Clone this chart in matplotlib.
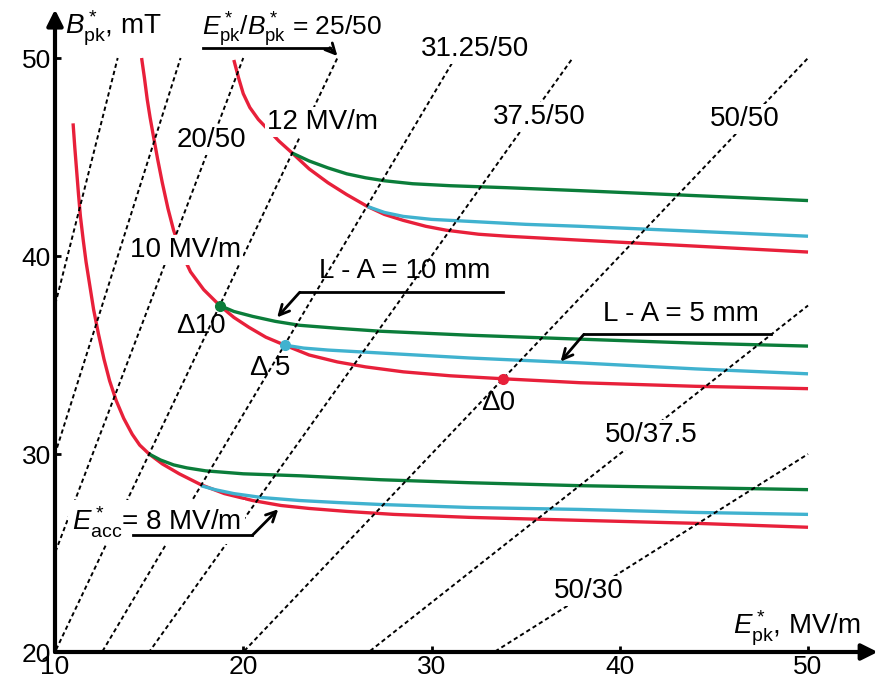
import numpy as np
import matplotlib.pyplot as plt

plt.rcParams['font.family'] = 'Liberation Sans'
plt.rcParams['mathtext.fontset'] = 'custom'
plt.rcParams['mathtext.rm'] = 'Liberation Sans'
plt.rcParams['mathtext.it'] = 'Liberation Sans:italic'

RED = "#e8203a"
GREEN = "#0b7d3a"
CYAN = "#40b2cf"

# E*pk / B*pk ratio lines, given by their end points (MV/m, mT)
ratio_e = [13.33, 16.67, 20, 25, 31.25, 37.5, 50, 50, 50]
ratio_b = [50, 50, 50, 50, 50, 50, 50, 37.5, 30]

# red curves: Eacc* = 8, 10, 12 MV/m, no L-A
red8_x = [10.96, 11.05, 11.15, 11.25, 11.35, 11.5, 11.65, 11.85, 12.05, 12.3, 12.6, 12.9, 13.25, 13.65,
          14.1, 14.5, 15.0, 15.7, 16.6, 17.75, 19.0, 20.5, 22.0, 23.5, 25.5, 28.0, 32.0, 37.9, 44.0, 50.0]
red8_y = [46.7, 45.5, 44.3, 43.1, 42.0, 40.8, 39.7, 38.5, 37.3, 36.1, 34.8, 33.7, 32.7, 31.8,
          31.0, 30.45, 30.0, 29.5, 29.0, 28.45, 28.0, 27.65, 27.4, 27.25, 27.1, 26.95, 26.8, 26.65, 26.5, 26.3]
red10_x = [14.6, 14.75, 14.9, 15.05, 15.2, 15.45, 15.7, 16.0, 16.3, 16.7, 17.2, 17.9, 18.75, 19.5, 20.3,
           21.2, 22.2, 23.5, 25.0, 26.5, 28.5, 31.0, 33.8, 37.9, 44.0, 50.0]
red10_y = [50.0, 49.0, 47.9, 47.0, 46.2, 44.9, 43.7, 42.4, 41.3, 40.2, 39.2, 38.3, 37.5, 36.9, 36.4,
           35.9, 35.5, 35.0, 34.65, 34.4, 34.15, 33.95, 33.8, 33.6, 33.42, 33.3]
red12_x = [19.5, 19.75, 20.0, 20.35, 20.8, 21.3, 21.9, 22.6, 23.5, 24.5, 25.5, 26.6, 27.5, 28.5, 29.7,
           30.8, 32.5, 34.0, 37.9, 44.0, 50.0]
red12_y = [49.9, 49.0, 48.2, 47.5, 46.9, 46.4, 45.8, 45.2, 44.4, 43.7, 43.1, 42.5, 42.1, 41.8, 41.5,
           41.3, 41.1, 41.0, 40.8, 40.5, 40.2]

# green: L-A = 10 mm
green8_x = [15.0, 15.6, 16.3, 17.0, 18.0, 20.0, 23.0, 27.3, 32.0, 37.9, 44.0, 50.0]
green8_y = [30.0, 29.7, 29.45, 29.3, 29.15, 29.0, 28.9, 28.7, 28.55, 28.4, 28.3, 28.2]
green10_x = [18.75, 19.5, 20.5, 21.7, 23.0, 25.0, 27.3, 32.0, 37.9, 44.0, 50.0]
green10_y = [37.5, 37.2, 36.95, 36.7, 36.5, 36.35, 36.2, 36.0, 35.8, 35.6, 35.45]
green12_x = [22.6, 23.5, 24.5, 25.5, 26.5, 27.5, 29.0, 31.0, 34.0, 37.9, 44.0, 50.0]
green12_y = [45.2, 44.8, 44.45, 44.15, 43.95, 43.8, 43.65, 43.55, 43.45, 43.3, 43.05, 42.8]

# cyan: L-A = 5 mm
cyan8_x = [17.75, 18.5, 19.5, 21.0, 23.0, 25.0, 27.3, 32.0, 37.9, 44.0, 50.0]
cyan8_y = [28.4, 28.2, 28.0, 27.8, 27.65, 27.55, 27.45, 27.3, 27.2, 27.05, 26.95]
cyan10_x = [22.2, 23.2, 24.5, 27.3, 32.0, 37.9, 44.0, 50.0]
cyan10_y = [35.5, 35.35, 35.25, 35.1, 34.85, 34.6, 34.3, 34.05]
cyan12_x = [26.6, 27.5, 28.5, 30.0, 32.0, 35.0, 37.9, 44.0, 50.0]
cyan12_y = [42.5, 42.2, 42.0, 41.85, 41.75, 41.6, 41.5, 41.25, 41.0]

# optimum points
dots_x = [18.75, 22.2, 33.8]
dots_y = [37.5, 35.5, 33.8]
dots_c = [GREEN, CYAN, RED]

fig = plt.figure(figsize=(8.79, 6.82), dpi=100)
ax = fig.add_axes([55 / 879, 30 / 682, 824 / 879, 652 / 682])
ax.set_xlim(10, 53.77)
ax.set_ylim(20, 52.93)
for s in ax.spines.values():
    s.set_visible(False)

for e, b in zip(ratio_e, ratio_b):
    ax.plot([0, e], [0, b], color="black", lw=1.4, ls=(0, (2.2, 1.6)), zorder=3)

lw = 2.4
for x, y in [(red8_x, red8_y), (red10_x, red10_y), (red12_x, red12_y)]:
    ax.plot(x, y, color=RED, lw=lw, zorder=2, solid_capstyle='butt')
for x, y in [(cyan8_x, cyan8_y), (cyan10_x, cyan10_y), (cyan12_x, cyan12_y)]:
    ax.plot(x, y, color=CYAN, lw=lw, zorder=2, solid_capstyle='butt')
for x, y in [(green8_x, green8_y), (green10_x, green10_y), (green12_x, green12_y)]:
    ax.plot(x, y, color=GREEN, lw=lw, zorder=2, solid_capstyle='butt')
for x, y, c in zip(dots_x, dots_y, dots_c):
    ax.plot(x, y, 'o', ms=7, color=c, zorder=4)

# axes with arrows
arr = dict(arrowstyle='-|>', lw=3, color='k', mutation_scale=24, shrinkA=0, shrinkB=0)
ax.annotate('', xy=(53.7, 20), xytext=(10, 20), arrowprops=arr, annotation_clip=False, zorder=6)
ax.annotate('', xy=(10, 52.45), xytext=(10, 20), arrowprops=arr, annotation_clip=False, zorder=6)
ax.set_xticks([10, 20, 30, 40, 50])
ax.set_yticks([20, 30, 40, 50])
ax.tick_params(direction='in', length=4, width=2, labelsize=19)
ax.tick_params(axis='x', pad=2)
ax.tick_params(axis='y', pad=3)

fs = 20
white = dict(facecolor='white', edgecolor='none', pad=1.5)
ax.text(10.55, 51.5, r'$B^*_{\mathrm{pk}}$, mT', fontsize=fs, va='center', ha='left')
ax.text(46.0, 21.2, r'$E^*_{\mathrm{pk}}$, MV/m', fontsize=fs, va='center', ha='left')
ax.text(22.6, 51.45, r'$E^*_{\mathrm{pk}}/B^*_{\mathrm{pk}}$ = 25/50', fontsize=fs - 1, va='center', ha='center')
ax.text(32.3, 50.45, '31.25/50', fontsize=fs, va='center', ha='center', bbox=white, zorder=5)
ax.text(35.7, 47.0, '37.5/50', fontsize=fs, va='center', ha='center', bbox=white, zorder=5)
ax.text(46.65, 46.9, '50/50', fontsize=fs, va='center', ha='center', bbox=white, zorder=5)
ax.text(41.65, 30.95, '50/37.5', fontsize=fs, va='center', ha='center', bbox=white, zorder=5)
ax.text(38.35, 23.1, '50/30', fontsize=fs, va='center', ha='center', bbox=white, zorder=5)
ax.text(18.3, 45.85, '20/50', fontsize=fs, va='center', ha='center', bbox=white, zorder=5)
ax.text(24.2, 46.75, '12 MV/m', fontsize=fs, va='center', ha='center', bbox=white, zorder=5)
ax.text(16.95, 40.3, '10 MV/m', fontsize=fs, va='center', ha='center', bbox=white, zorder=5)
ax.text(10.9, 26.55, r'$E^*_{\mathrm{acc}}$= 8 MV/m', fontsize=fs, va='center', ha='left',
        bbox=dict(facecolor='white', edgecolor='none', pad=3), zorder=5)
ax.text(28.6, 39.25, 'L - A = 10 mm', fontsize=fs, va='center', ha='center', zorder=5)
ax.text(43.25, 37.05, 'L - A = 5 mm', fontsize=fs, va='center', ha='center', zorder=5)
ax.text(17.75, 36.45, '\u039410', fontsize=fs, va='center', ha='center', zorder=5)
ax.text(21.45, 34.35, '\u0394 5', fontsize=fs, va='center', ha='center', zorder=5)
ax.text(33.55, 32.6, '\u03940', fontsize=fs, va='center', ha='center', zorder=5)

# leader lines with arrows
pointer = dict(arrowstyle='->', lw=2, color='k', shrinkA=0, shrinkB=0, mutation_scale=18)
ax.plot([17.85, 24.6], [50.52, 50.52], color='k', lw=2, clip_on=False, zorder=6)
ax.annotate('', xy=(25.0, 50.1), xytext=(24.6, 50.52), arrowprops=pointer, annotation_clip=False, zorder=6)
ax.plot([33.8, 23.0], [38.17, 38.17], color='k', lw=2, zorder=6)
ax.annotate('', xy=(21.8, 36.9), xytext=(23.0, 38.17), arrowprops=pointer, zorder=6)
ax.plot([48.03, 38.09], [36.04, 36.04], color='k', lw=2, zorder=6)
ax.annotate('', xy=(36.86, 34.67), xytext=(38.09, 36.04), arrowprops=pointer, zorder=6)
ax.plot([14.15, 20.48], [25.89, 25.89], color='k', lw=2, zorder=6)
ax.annotate('', xy=(21.86, 27.21), xytext=(20.48, 25.89), arrowprops=pointer, zorder=6)

fig.savefig("out.png", dpi=100)
